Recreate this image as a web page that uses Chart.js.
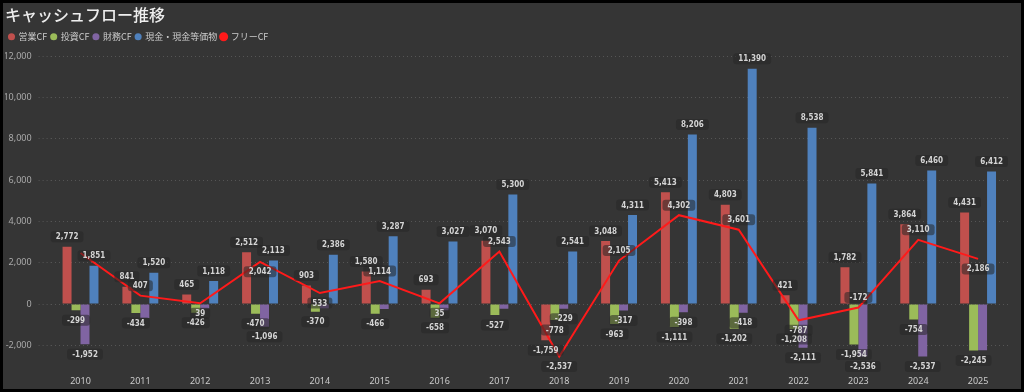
<!DOCTYPE html>
<html>
<head>
<meta charset="utf-8">
<script src="https://cdn.jsdelivr.net/npm/chart.js@4"></script>
<style>
  html, body { margin: 0; padding: 0; background: #000; }
  #wrap { position: absolute; left: 3px; top: 3px; width: 1018px; height: 386px; background: #353535; }
</style>
</head>
<body>
<div id="wrap"><canvas id="cfChart"></canvas></div>
<script>
const years = ['2010', '2011', '2012', '2013', '2014', '2015', '2016', '2017',
    '2018', '2019', '2020', '2021', '2022', '2023', '2024', '2025'];
const operatingCF = [2772, 841, 465, 2512, 903, 1580, 693, 3070, -1759, 3048, 5413, 4803, 421, 1782, 3864, 4431];
const investingCF = [-299, -434, -426, -470, -370, -466, -658, -527, -778, -963, -1111, -1202, -1208, -1954, -754, -2245];
const financingCF = [-1952, -680, -220, -1096, -200, -240, -300, -230, -229, -317, -398, -418, -2111, -2536, -2537, -2240];
const cashBalance = [1851, 1520, 1118, 2113, 2386, 3287, 3027, 5300, 2541, 4311, 8206, 11390, 8538, 5841, 6460, 6412];
const freeCF = [2473, 407, 39, 2042, 533, 1114, 35, 2543, -2537, 2105, 4302, 3601, -787, -172, 3110, 2186];
const yTicks = [-2000, 0, 2000, 4000, 6000, 8000, 10000, 12000];

// which side of the point the free CF label sits on
const freeLabelSide = ['top', 'top', 'bottom', 'bottom', 'bottom', 'top', 'bottom', 'top',
    'bottom', 'top', 'top', 'top', 'bottom', 'top', 'top', 'bottom'];

const labelFont = 'bold 8px "DejaVu Sans Condensed", "Liberation Sans Narrow", Roboto, sans-serif';

function roundRect(ctx, x, y, w, h, r) {
    ctx.beginPath();
    ctx.moveTo(x + r, y);
    ctx.lineTo(x + w - r, y);
    ctx.quadraticCurveTo(x + w, y, x + w, y + r);
    ctx.lineTo(x + w, y + h - r);
    ctx.quadraticCurveTo(x + w, y + h, x + w - r, y + h);
    ctx.lineTo(x + r, y + h);
    ctx.quadraticCurveTo(x, y + h, x, y + h - r);
    ctx.lineTo(x, y + r);
    ctx.quadraticCurveTo(x, y, x + r, y);
    ctx.closePath();
}

// value labels, overlapping ones are skipped (earlier datasets win)
const valueLabels = {
    id: 'valueLabels',
    afterDatasetsDraw(chart) {
        const ctx = chart.ctx;
        ctx.save();
        ctx.font = labelFont;
        const placed = [];
        const todo = [];
        chart.data.datasets.forEach((ds, di) => {
            const meta = chart.getDatasetMeta(di);
            meta.data.forEach((el, i) => {
                const v = ds.data[i];
                const text = v.toLocaleString('en-US');
                let dir;
                if (ds.type === 'line') dir = freeLabelSide[i] === 'top' ? -1 : 1;
                else dir = v >= 0 ? -1 : 1;
                const x = el.x;
                const y = el.y + dir * 10;
                const w = ctx.measureText(text).width;
                const box = { l: x - w / 2 - 1, r: x + w / 2 + 1, t: y - 4, b: y + 4 };
                if (placed.some(p => p.l < box.r && box.l < p.r && p.t < box.b && box.t < p.b)) return;
                placed.push(box);
                todo.push({ x, y, w, text });
            });
        });
        todo.forEach(l => {
            ctx.fillStyle = 'rgba(38, 38, 38, 0.55)';
            roundRect(ctx, l.x - l.w / 2 - 5, l.y - 5.5, l.w + 10, 11, 3);
            ctx.fill();
            ctx.fillStyle = '#d4d4d4';
            ctx.textAlign = 'center';
            ctx.textBaseline = 'middle';
            ctx.fillText(l.text, l.x, l.y + 0.5);
        });
        ctx.restore();
    }
};

// a bit more room between the legend and the plot
const legendGap = {
    id: 'legendGap',
    beforeInit(chart) {
        const fit = chart.legend.fit;
        chart.legend.fit = function () {
            fit.call(this);
            this.height += 5;
        };
    }
};

const ctx = document.getElementById('cfChart');

new Chart(ctx, {
    type: 'bar',
    data: {
        labels: years,
        datasets: [
            { label: '営業CF', data: operatingCF, backgroundColor: '#c0504d', order: 1 },
            { label: '投資CF', data: investingCF, backgroundColor: '#9bbb59', order: 1 },
            { label: '財務CF', data: financingCF, backgroundColor: '#8064a2', order: 1 },
            { label: '現金・現金等価物', data: cashBalance, backgroundColor: '#4f81bd', order: 1 },
            {
                type: 'line',
                label: 'フリーCF',
                data: freeCF,
                borderColor: '#ff1a1a',
                backgroundColor: '#ff1a1a',
                borderWidth: 2,
                pointRadius: 0,
                tension: 0,
                order: 0
            }
        ]
    },
    options: {
        responsive: true,
        maintainAspectRatio: false,
        animation: false,
        layout: { padding: { left: 2, right: 13, top: 0, bottom: 2 } },
        datasets: {
            bar: { categoryPercentage: 0.6, barPercentage: 1.0, borderWidth: 0 }
        },
        plugins: {
            title: {
                display: true,
                text: 'キャッシュフロー推移',
                align: 'start',
                color: '#eeeeee',
                font: { family: '"Noto Sans CJK JP", sans-serif', size: 16, weight: '500' },
                padding: { top: 2, bottom: 4 }
            },
            legend: {
                align: 'start',
                labels: {
                    usePointStyle: true,
                    pointStyle: 'circle',
                    boxWidth: 5,
                    boxHeight: 5,
                    padding: 4,
                    color: '#cccccc',
                    font: { family: '"Noto Sans CJK JP", sans-serif', size: 9 },
                    sort: (a, b) => a.datasetIndex - b.datasetIndex
                }
            },
            tooltip: { enabled: false }
        },
        scales: {
            x: {
                afterFit: (scale) => { scale.height = 21; },
                grid: { display: false, drawTicks: false },
                border: { display: false },
                ticks: { color: '#cccccc', font: { family: '"Noto Sans", sans-serif', size: 9 }, padding: 10 }
            },
            y: {
                min: -3000,
                max: 12000,
                afterBuildTicks: (scale) => { scale.ticks = yTicks.map(v => ({ value: v })); },
                afterFit: (scale) => { scale.width = 45.6; },
                grid: {
                    color: 'rgba(255,255,255,0.16)',
                    tickColor: 'rgba(255,255,255,0.16)',
                    tickLength: 12,
                    tickBorderDash: [1, 3]
                },
                border: { display: false, dash: [1, 3] },
                ticks: {
                    color: '#aaaaaa',
                    padding: 7,
                    font: { family: '"Noto Sans", sans-serif', size: 9 },
                    callback: (v) => v.toLocaleString('en-US')
                }
            }
        }
    },
    plugins: [valueLabels, legendGap]
});
</script>
</body>
</html>
